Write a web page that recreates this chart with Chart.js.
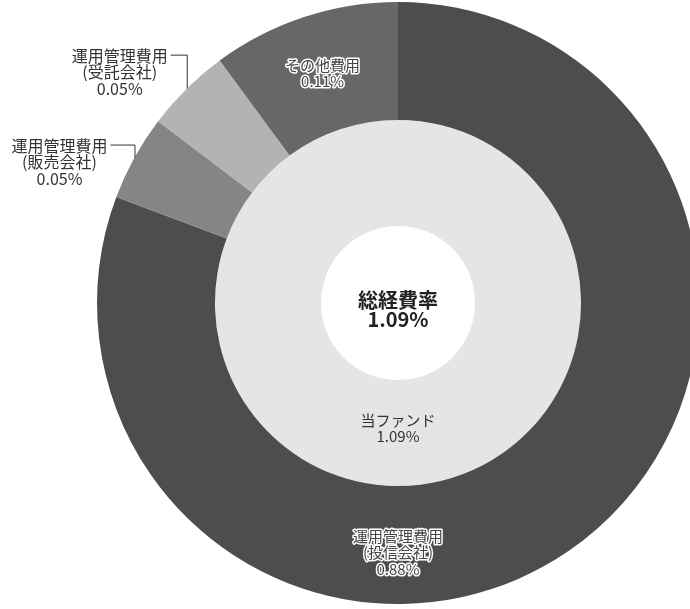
<!DOCTYPE html>
<html>
<head>
<meta charset="utf-8">
<script src="https://cdn.jsdelivr.net/npm/chart.js@4.4.1/dist/chart.umd.min.js"></script>
<style>
  html, body { margin: 0; padding: 0; background: #fff; overflow: hidden; }
  #wrap { position: relative; width: 690px; height: 609px; overflow: hidden; }
  #feeChart { position: absolute; left: 0; top: 0; }
</style>
</head>
<body>
<div id="wrap"><canvas id="feeChart" width="796" height="609"></canvas></div>
<script>
// Fee breakdown (outer ring)
const feeNames = ['運用管理費用', '運用管理費用', '運用管理費用', 'その他費用'];
const feeSubNames = ['(投信会社)', '(販売会社)', '(受託会社)', ''];
const feeValues = [0.88, 0.05, 0.05, 0.11];   // %

// Fund total (inner ring)
const fundNames = ['当ファンド'];
const fundValues = [1.09];

// Center text
const totalTitle = '総経費率';
const totalValue = 1.09;

const FONT = "'Noto Sans CJK JP', 'Noto Sans', sans-serif";

function pct(v) { return v.toFixed(2) + '%'; }

// draws labels, leader lines and center text
const labelPlugin = {
    id: 'feeLabels',
    afterDatasetsDraw(chart) {
        const ctx = chart.ctx;
        const outer = chart.getDatasetMeta(0).data;
        const inner = chart.getDatasetMeta(1).data;
        const cx = outer[0].x, cy = outer[0].y;
        ctx.save();
        ctx.textAlign = 'center';
        ctx.textBaseline = 'middle';

        function haloText(lines, x, y, gap) {
            ctx.font = '15px ' + FONT;
            ctx.lineJoin = 'round';
            lines.forEach((t, i) => {
                ctx.lineWidth = 3;
                ctx.strokeStyle = '#ffffff';
                ctx.strokeText(t, x, y + i * gap);
                ctx.fillStyle = '#444444';
                ctx.fillText(t, x, y + i * gap);
            });
        }

        // 投信会社 - inside, at the bottom of the ring
        const a0 = outer[0];
        const mid0 = (a0.innerRadius + a0.outerRadius) / 2;
        haloText([feeNames[0], feeSubNames[0], pct(feeValues[0])], cx, cy + mid0 - 9, 16.5);

        // その他費用 - inside, at slice centroid
        const p3 = outer[3].tooltipPosition();
        haloText([feeNames[3], pct(feeValues[3])], p3.x, p3.y - 8, 16);

        // small slices - outside with leader lines
        const leaders = { 1: { rise: 13, run: 24 }, 2: { rise: 34, run: 16 } };
        Object.keys(leaders).forEach(k => {
            const i = +k;
            const arc = outer[i];
            const ang = (arc.startAngle + arc.endAngle) / 2;
            const ex = cx + arc.outerRadius * Math.cos(ang);
            const ey = cy + arc.outerRadius * Math.sin(ang);
            const ly = ey - leaders[k].rise;
            const lx = ex - leaders[k].run;
            ctx.strokeStyle = '#333333';
            ctx.lineWidth = 1;
            ctx.beginPath();
            ctx.moveTo(ex + 0.5, ey);
            ctx.lineTo(ex + 0.5, ly + 0.5);
            ctx.lineTo(lx, ly + 0.5);
            ctx.stroke();

            ctx.font = '16px ' + FONT;
            ctx.fillStyle = '#333333';
            const w = ctx.measureText(feeNames[i]).width;
            const tx = lx - 3 - w / 2;
            [feeNames[i], feeSubNames[i], pct(feeValues[i])].forEach((t, j) => {
                ctx.fillText(t, tx, ly + 1 + j * 16.5);
            });
        });

        // inner ring label
        const f = inner[0];
        const midF = (f.innerRadius + f.outerRadius) / 2;
        ctx.font = '15px ' + FONT;
        ctx.fillStyle = '#333333';
        ctx.fillText(fundNames[0], cx, cy + midF - 13);
        ctx.fillText(pct(fundValues[0]), cx, cy + midF + 3);

        // center
        ctx.font = 'bold 20px ' + FONT;
        ctx.fillStyle = '#222222';
        ctx.fillText(totalTitle, cx, cy - 3);
        ctx.fillText(pct(totalValue), cx, cy + 16);
        ctx.restore();
    }
};

const feeCtx = document.getElementById('feeChart').getContext('2d');

new Chart(feeCtx, {
    type: 'doughnut',
    data: {
        labels: feeNames.map((n, i) => n + feeSubNames[i]),
        datasets: [
            {
                data: feeValues,
                backgroundColor: ['#4d4d4d', '#858585', '#b3b3b3', '#676767'],
                borderWidth: 0,
                weight: 118
            },
            {
                data: fundValues,
                backgroundColor: ['#e5e5e5'],
                borderWidth: 0,
                weight: 106
            }
        ]
    },
    options: {
        responsive: false,
        animation: false,
        cutout: '25.6%',
        hoverOffset: 0,
        layout: {
            padding: { top: 2, bottom: 5, left: 0, right: 0 }
        },
        plugins: {
            legend: { display: false },
            tooltip: { enabled: false }
        }
    },
    plugins: [labelPlugin]
});
</script>
</body>
</html>
